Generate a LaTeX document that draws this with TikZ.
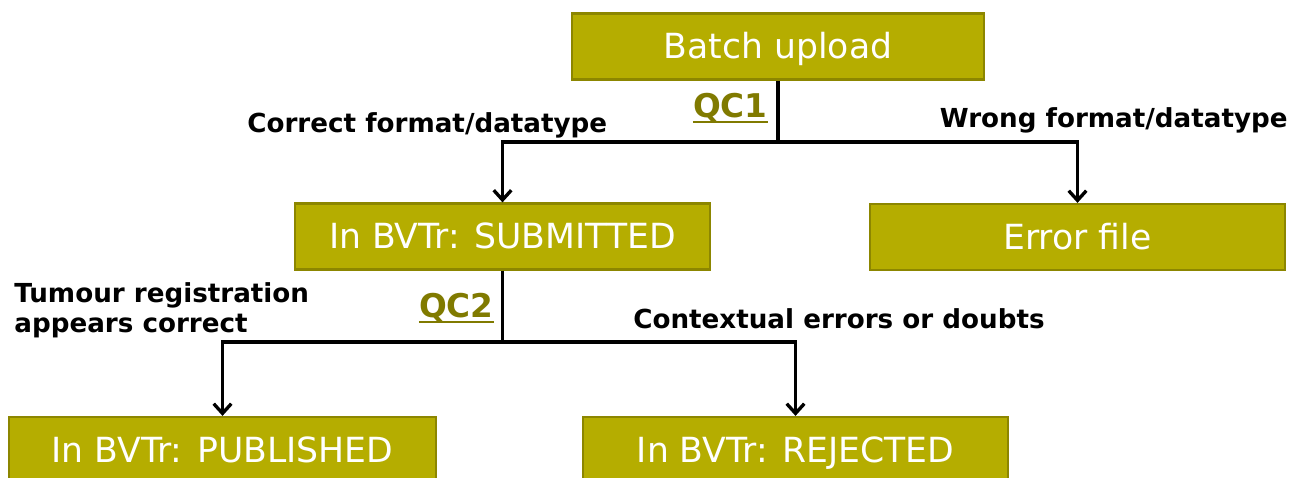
\documentclass[tikz,border=0pt]{standalone}
\usepackage{fontspec}
\setmainfont{DejaVu Sans}
\usetikzlibrary{arrows.meta}
\definecolor{boxfill}{HTML}{B5AD00}
\definecolor{boxline}{HTML}{8C8600}
\definecolor{qctext}{HTML}{807A00}
\tikzset{
  stagebox/.style={draw=boxline, fill=boxfill, line width=1.3pt, text=white,
    font=\fontsize{19.7}{20}\selectfont, minimum height=1.32cm, inner sep=0pt,
    text height=14.2pt, text depth=0pt},
  flow/.style={line width=1.9pt},
  flowarrow/.style={flow, -{Straight Barb[length=5.5pt,width=10pt]}},
  cond/.style={font=\fontsize{14.9}{17}\selectfont\bfseries, inner sep=0pt, align=left},
  qc/.style={font=\fontsize{18.6}{20}\selectfont\bfseries, text=qctext, inner sep=0pt},
  qcline/.style={draw=qctext, line width=1.1pt}
}
\begin{document}
\begin{tikzpicture}[x=0.02cm, y=-0.02cm]
\path[use as bounding box, clip] (0,0) rectangle (1291,477);
  \node[stagebox, minimum width=8.24cm] (batch) at (778,46.5) {Batch upload};
  \node[stagebox, minimum width=8.3cm] (submitted) at (502.5,236.5) {In BVTr: SUBMITTED};
  \node[stagebox, minimum width=8.3cm] (error) at (1077.5,237) {Error file};
  \node[stagebox, minimum width=8.54cm] (published) at (222.5,450) {In BVTr: PUBLISHED};
  \node[stagebox, minimum width=8.5cm] (rejected) at (795.5,450) {In BVTr: REJECTED};
  % QC1 split
  \coordinate (qcone) at (778,142);
  \draw[flow] (batch.south) -- (qcone);
  \draw[flowarrow] (qcone) -| (submitted.north);
  \draw[flowarrow] (qcone) -| (error.north);
  % QC2 split
  \coordinate (qctwo) at (502.5,342);
  \draw[flow] (submitted.south) -- (qctwo);
  \draw[flowarrow] (qctwo) -| (published.north);
  \draw[flowarrow] (qctwo) -| (rejected.north);
  \node[qc, anchor=base east] (qconelabel) at (768,117) {QC1};
  \node[qc, anchor=base east] (qctwolabel) at (494,317) {QC2};
  \foreach \lab in {qconelabel,qctwolabel}
    \draw[qcline] ([yshift=-3pt]\lab.base west) -- ([yshift=-3pt]\lab.base east);
  \node[cond, anchor=base west] (correct) at (247,132) {Correct format/datatype};
  \node[cond, anchor=base east] (wrong) at (1288,127) {Wrong format/datatype};
  \node[cond, anchor=base west] (tumour) at (14,302) {Tumour registration};
  \node[cond, anchor=base west] (appears) at (14,332) {appears correct};
  \node[cond, anchor=base west] (context) at (633,328) {Contextual errors or doubts};
\end{tikzpicture}
\end{document}
